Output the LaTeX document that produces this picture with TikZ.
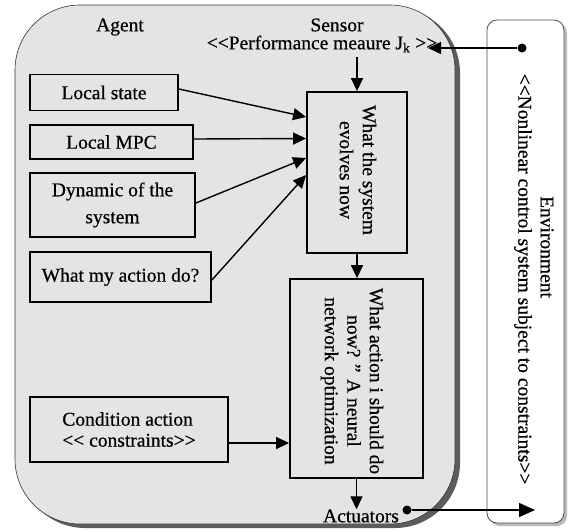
\documentclass[tikz,border=0pt]{standalone}
\usepackage{fontspec}
\setmainfont{Liberation Serif}[BoldFont={Liberation Serif}, BoldFeatures={FakeBold=0.5}]
\usetikzlibrary{arrows.meta}
\definecolor{agentfill}{HTML}{E4E4E4}
\definecolor{shadowgray}{HTML}{5C5C5C}
\begin{document}
\begin{tikzpicture}[x=1pt,y=-1pt,
  font=\fontsize{19.5}{23}\selectfont\bfseries,
  box/.style={draw=black, line width=1.8pt, inner sep=0pt, align=center},
  lbl/.style={inner sep=0pt, align=center},
  arr/.style={line width=1.4pt, -{Triangle[length=13pt,width=12pt]}},
  bigarr/.style={line width=1.4pt, -{Triangle[length=16pt,width=14pt]}},
  dot/.style={circle, fill=black, inner sep=0pt, minimum size=9pt}
  ]
\useasboundingbox (0,0) rectangle (568,531);
% agent frame
\fill[shadowgray, rounded corners=65pt] (20,8) rectangle (460,528);
\draw[gray!40!black, line width=0.6pt, fill=agentfill, rounded corners=65pt] (15,5) rectangle (455,524);
% environment frame
\fill[gray!55, rounded corners=10pt] (490,23) rectangle (567,526);
\draw[gray!60!black, line width=0.8pt, fill=white, rounded corners=10pt] (487,20) rectangle (564,523);

% labels
\node[lbl] (agent) at (120,27) {Agent};
\node[lbl] (sensor) at (337,25) {Sensor};
\node[lbl] (perf) at (322,44) {<{}<Performance meaure J\textsubscript{k} >{}>};
\node[lbl, rotate=-90] (envl) at (547,247) {Environment};
\node[lbl, rotate=-90] (nonl) at (523,279) {<{}<Nonlinear control system subject to constraints>{}>};
\node[lbl] (act) at (361,516) {Actuators};

% left boxes
\node[box, minimum width=148pt, minimum height=36pt] (ls) at (104,92.5) {Local state};
\node[box, minimum width=163pt, minimum height=34pt] (mpc) at (111.5,142) {Local MPC};
\node[box, minimum width=165pt, minimum height=64pt, font=\fontsize{19.5}{27}\selectfont\bfseries] (dyn) at (112.5,205) {Dynamic of the\\system};
\node[box, minimum width=181pt, minimum height=50pt] (wm) at (120.5,277) {What my action do?};
\node[box, minimum width=198pt, minimum height=65pt, align=left, font=\fontsize{19.5}{21}\selectfont\bfseries] (cond) at (129,429.5) {Condition action\\<{}< constraints>{}>};

% central boxes
\node[box, minimum width=100pt, minimum height=161pt] (ev) at (357,172.5) {};
\node[lbl, rotate=-90] (evt) at (358,170) {What the system\\evolves now};
\node[box, minimum width=133pt, minimum height=199pt] (ac) at (356.5,378.5) {};
\node[lbl, rotate=-90, font=\fontsize{19.5}{22.5}\selectfont\bfseries] (act2) at (352,381) {What action i should do\\now? ” A neural\\network optimization};

% dots and free ends
\node[dot] (d1) at (522,48) {};
\coordinate (t1) at (428,48);
\node[dot] (d2) at (407,510) {};
\coordinate (t2) at (535,510);
\coordinate (cs) at ([yshift=-13.5pt]cond.east);
\coordinate (ps) at ([yshift=-4pt]perf.south -| ev.north);

% connectors
\draw[arr] (ps) -- (ev.north);
\draw[arr] ([yshift=3.5pt]ls.east) -- ([yshift=55.5pt]ev.west);
\draw[arr] ([yshift=3pt]mpc.east) -- ([yshift=34pt]ev.west);
\draw[arr] ([yshift=2pt]dyn.east) -- ([yshift=14.5pt]ev.west);
\draw[arr] ([yshift=-3pt]wm.east) -- ([yshift=-2.5pt]ev.west);
\draw[arr] (ev.south) -- (ev.south |- ac.north);
\draw[arr] (cs) -- (cs -| ac.west);
\draw[arr] (ac.south) -- (ac.south |- act.north);
\draw[arr] (d1) -- (t1);
\draw[bigarr] (d2) -- (t2);
\end{tikzpicture}
\end{document}
